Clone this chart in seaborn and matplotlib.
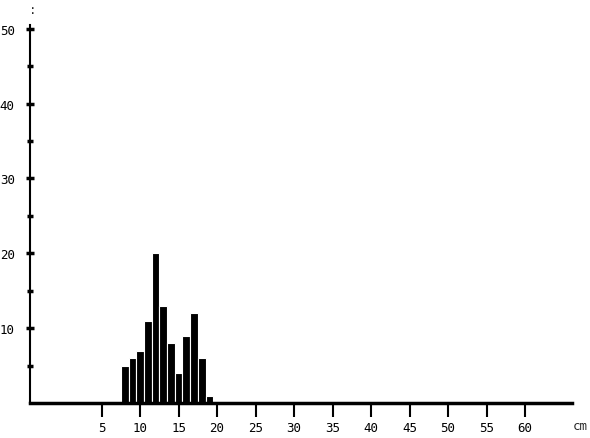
import numpy as np
import pandas as pd
import seaborn as sns
import matplotlib.pyplot as plt

# length classes (cm, bin centres) and counts
length_cm = [8, 9, 10, 11, 12, 13, 14, 15, 16, 17, 18, 19]
counts = [5, 6, 7, 11, 20, 13, 8, 4, 9, 12, 6, 1]

x_ticks = [5, 10, 15, 20, 25, 30, 35, 40, 45, 50, 55, 60]
y_major = [10, 20, 30, 40, 50]
y_minor = [5, 15, 25, 35, 45]

df = pd.DataFrame({'length': length_cm, 'n': counts})

sns.set_style('white')
plt.rcParams['font.family'] = ['DejaVu Sans Mono', 'DejaVu Sans']

fig = plt.figure(figsize=(5.9, 4.39), dpi=100)
ax = fig.add_axes([30 / 590, 35 / 439, 542 / 590, 378 / 439])

sns.histplot(
    data=df, x='length', weights='n',
    binwidth=1, binrange=(7.5, 19.5),
    color='black', alpha=1, edgecolor='white', linewidth=0.8,
    ax=ax
)

ax.set_xlim(-4.3, 66.1)
ax.set_ylim(0, 50.5)

ax.set_xticks(x_ticks)
ax.set_xticklabels([str(t) for t in x_ticks], fontsize=9)
ax.set_yticks(y_major)
ax.set_yticklabels([str(t) for t in y_major], fontsize=9)
ax.set_yticks(y_minor, minor=True)

ax.tick_params(axis='x', direction='out', length=10, width=1.5, pad=3,
               colors='black', bottom=True)
ax.tick_params(axis='y', which='major', direction='inout', length=6, width=2.5,
               pad=8, left=True, colors='black')
ax.tick_params(axis='y', which='minor', direction='inout', length=4, width=2.5,
               left=True, colors='black')

for side in ['top', 'right']:
    ax.spines[side].set_visible(False)
ax.spines['bottom'].set_linewidth(2.5)
ax.spines['bottom'].set_linestyle((0, (3, 1)))
ax.spines['bottom'].set_color('black')
ax.spines['left'].set_linewidth(1.5)
ax.spines['left'].set_color('black')

ax.set_xlabel('')
ax.set_ylabel('')
ax.grid(False)

fig.text(580 / 590, 1 - 427 / 439, 'cm', ha='center', va='center', fontsize=9)
fig.text(33 / 590, 1 - 10 / 439, ':', ha='center', va='center', fontsize=9)

fig.savefig('out.png', dpi=100, facecolor='white')
